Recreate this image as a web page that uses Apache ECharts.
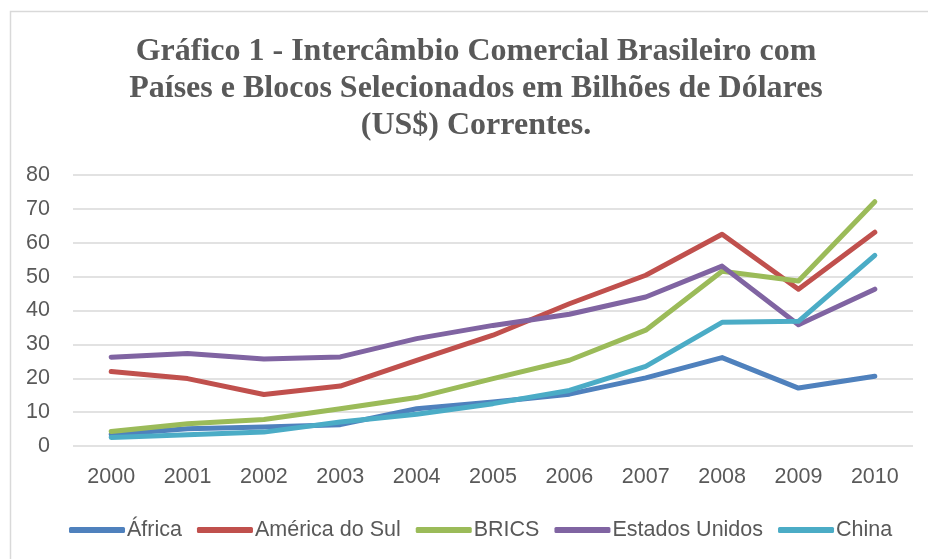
<!DOCTYPE html>
<html lang="pt">
<head>
  <meta charset="UTF-8">
  <title>Intercâmbio Comercial Brasileiro</title>
  <script src="https://cdn.jsdelivr.net/npm/echarts@6/dist/echarts.min.js"></script>
  <style>
    html, body, #main {
      margin: 0;
      padding: 0;
      width: 928px;
      height: 559px;
      background: #fff;
    }
  </style>
</head>
<body>
  <div id="main"></div>
  <script>
    // dados (bilhões de US$)
    const anos = ['2000', '2001', '2002', '2003', '2004', '2005', '2006', '2007', '2008', '2009', '2010'];
    const africa = [3.4, 5.1, 5.6, 6.3, 11.0, 13.0, 15.3, 20.1, 26.1, 17.1, 20.6];
    const americaDoSul = [22.0, 19.9, 15.2, 17.7, 25.3, 32.7, 42.0, 50.4, 62.5, 46.3, 63.1];
    const brics = [4.3, 6.6, 7.8, 11.0, 14.3, 19.9, 25.3, 34.2, 51.6, 48.7, 72.1];
    const estadosUnidos = [26.2, 27.3, 25.7, 26.3, 31.7, 35.6, 38.9, 44.0, 53.1, 35.8, 46.3];
    const china = [2.5, 3.3, 4.1, 7.1, 9.4, 12.5, 16.4, 23.5, 36.5, 36.8, 56.3];
    const yTicks = [0, 80, 10];

    const chart = echarts.init(document.getElementById('main'));

    function linha(nome, dados, cor) {
      return {
        name: nome,
        type: 'line',
        data: dados,
        symbol: 'none',
        lineStyle: { color: cor, width: 5, cap: 'round', join: 'round' },
        itemStyle: { color: cor }
      };
    }

    chart.setOption({
      animation: false,
      graphic: [{
        type: 'rect',
        shape: { x: 10.5, y: 11.5, width: 930, height: 560 },
        style: { fill: 'none', stroke: '#d9d9d9', lineWidth: 1.5 },
        silent: true
      }],
      title: {
        text: 'Gráfico 1 - Intercâmbio Comercial Brasileiro com\nPaíses e Blocos Selecionados em Bilhões de Dólares\n(US$) Correntes.',
        left: 476,
        top: 33,
        textAlign: 'center',
        padding: 0,
        textStyle: {
          fontFamily: 'Liberation Serif',
          fontWeight: 'bold',
          fontSize: 32,
          lineHeight: 37,
          color: '#595959'
        }
      },
      legend: {
        bottom: 13,
        left: 64,
        itemWidth: 56,
        itemHeight: 6,
        itemGap: 15,
        icon: 'roundRect',
        textStyle: { fontFamily: 'Liberation Sans', fontSize: 21.5, color: '#595959', padding: [0, 0, 0, -3] },
        data: ['África', 'América do Sul', 'BRICS', 'Estados Unidos', 'China']
      },
      grid: { left: 73, right: 15, top: 175, bottom: 113, containLabel: false },
      xAxis: {
        type: 'category',
        data: anos,
        boundaryGap: true,
        axisLine: { show: false },
        axisTick: { show: false },
        axisLabel: { fontFamily: 'Liberation Sans', fontSize: 21.5, color: '#595959', margin: 20 }
      },
      yAxis: {
        type: 'value',
        min: yTicks[0],
        max: yTicks[1],
        interval: yTicks[2],
        axisLine: { show: false },
        axisTick: { show: false },
        splitLine: { lineStyle: { color: '#d9d9d9', width: 1.5 } },
        axisLabel: { fontFamily: 'Liberation Sans', fontSize: 21.5, color: '#595959', margin: 23 }
      },
      series: [
        linha('África', africa, '#4F81BD'),
        linha('América do Sul', americaDoSul, '#C0504D'),
        linha('BRICS', brics, '#9BBB59'),
        linha('Estados Unidos', estadosUnidos, '#8064A2'),
        linha('China', china, '#4BACC6')
      ]
    });
  </script>
</body>
</html>
